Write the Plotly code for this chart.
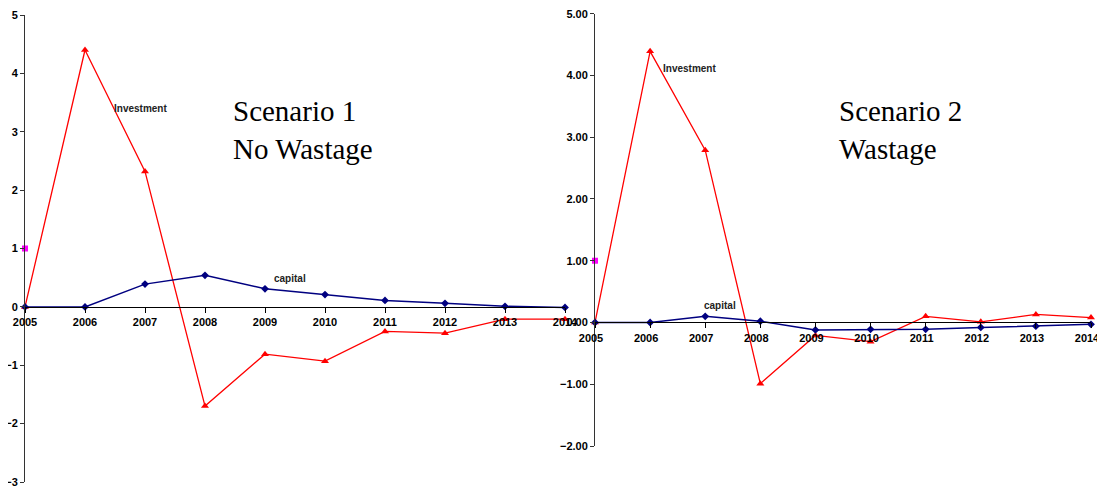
import plotly.graph_objects as go

years = [2005, 2006, 2007, 2008, 2009, 2010, 2011, 2012, 2013, 2014]

# Scenario 1 - No Wastage
inv1 = [0.0, 4.40, 2.32, -1.70, -0.81, -0.93, -0.42, -0.45, -0.21, -0.21]
cap1 = [0.0, 0.0, 0.39, 0.54, 0.31, 0.21, 0.11, 0.06, 0.01, -0.01]
# Scenario 2 - Wastage
inv2 = [0.0, 4.39, 2.79, -0.99, -0.21, -0.31, 0.10, 0.01, 0.13, 0.08]
cap2 = [0.0, 0.0, 0.10, 0.02, -0.12, -0.11, -0.11, -0.08, -0.06, -0.03]
# stray marker at 2005
extra_x = [2005]
extra_y = [1.0]

W, H = 1105, 487
OFF = 8  # page body margin
RED = "#FF0000"
NAVY = "#000080"
MAG = "#FF00FF"

def px(v):
    return (v - OFF) / W

def py(v):
    return (H - (v - OFF)) / H

fig = go.Figure()

def add_series(xa, ya, inv, cap):
    fig.add_trace(go.Scatter(x=years, y=inv, mode="lines+markers", name="Investment",
                             line=dict(color=RED, width=1.3),
                             marker=dict(symbol="triangle-up", size=7, color=RED),
                             xaxis=xa, yaxis=ya, cliponaxis=False, showlegend=False))
    fig.add_trace(go.Scatter(x=years, y=cap, mode="lines+markers", name="capital",
                             line=dict(color=NAVY, width=1.5),
                             marker=dict(symbol="diamond", size=6, color=NAVY),
                             xaxis=xa, yaxis=ya, cliponaxis=False, showlegend=False))
    fig.add_trace(go.Scatter(x=extra_x, y=extra_y, mode="markers", name="other",
                             marker=dict(symbol="square", size=6, color=MAG),
                             xaxis=xa, yaxis=ya, cliponaxis=False, showlegend=False))

add_series("x", "y", inv1, cap1)
add_series("x2", "y2", inv2, cap2)

NARROW = "Liberation Sans Narrow, Arial Narrow, Liberation Sans, Arial"
tickfont = dict(family=NARROW, size=11, color="black", weight="bold")

ly0, ly1 = py(482), py(15)
left_zero = ly0 + (ly1 - ly0) * 3 / 8
ry0, ry1 = py(446), py(13.7)
right_zero = ry0 + (ry1 - ry0) * 2 / 7

common_x = dict(range=[2005, 2014], tickmode="array", tickvals=years, ticktext=[str(y) for y in years],
                showgrid=False, zeroline=False, showline=True, linecolor="black", linewidth=1,
                ticks="outside", ticklen=5, tickcolor="black", tickfont=tickfont, anchor="free",
                automargin=False, ticklabeloverflow="allow")
common_y = dict(showgrid=False, zeroline=False, showline=True, linecolor="#333333", linewidth=1,
                ticks="outside", ticklen=4, tickcolor="#333333", tickfont=tickfont, dtick=1,
                automargin=False, ticklabeloverflow="allow")

fig.update_layout(
    width=W, height=H,
    margin=dict(l=0, r=0, t=0, b=0),
    paper_bgcolor="white", plot_bgcolor="white",
    xaxis=dict(domain=[px(25), px(565)], position=left_zero, **common_x),
    yaxis=dict(domain=[ly0, ly1], range=[-3, 5], anchor="x", tickformat="d", **common_y),
    xaxis2=dict(domain=[px(595), px(1091)], position=right_zero, ticklabelshift=-4, **common_x),
    yaxis2=dict(domain=[ry0, ry1], range=[-2, 5], anchor="x2", tickformat=".2f", **common_y),
    showlegend=False,
)

lblfont = dict(family=NARROW, size=10, color="#222222", weight="bold")
fig.add_annotation(x=2006.92, y=3.40, xref="x", yref="y", text="Investment", showarrow=False, font=lblfont)
fig.add_annotation(x=2009.42, y=0.49, xref="x", yref="y", text="capital", showarrow=False, font=lblfont)
fig.add_annotation(x=2006.71, y=4.11, xref="x2", yref="y2", text="Investment", showarrow=False, font=lblfont)
fig.add_annotation(x=2007.26, y=0.27, xref="x2", yref="y2", text="capital", showarrow=False, font=lblfont)

scfont = dict(family="Liberation Serif, Times New Roman", size=29, color="black")
fig.add_annotation(x=px(231), y=py(130), xref="paper", yref="paper", text="Scenario 1<br>No Wastage",
                   showarrow=False, font=scfont, align="left", xanchor="left", yanchor="middle")
fig.add_annotation(x=px(837), y=py(130), xref="paper", yref="paper", text="Scenario 2<br>Wastage",
                   showarrow=False, font=scfont, align="left", xanchor="left", yanchor="middle")

fig.write_html("out.html")
